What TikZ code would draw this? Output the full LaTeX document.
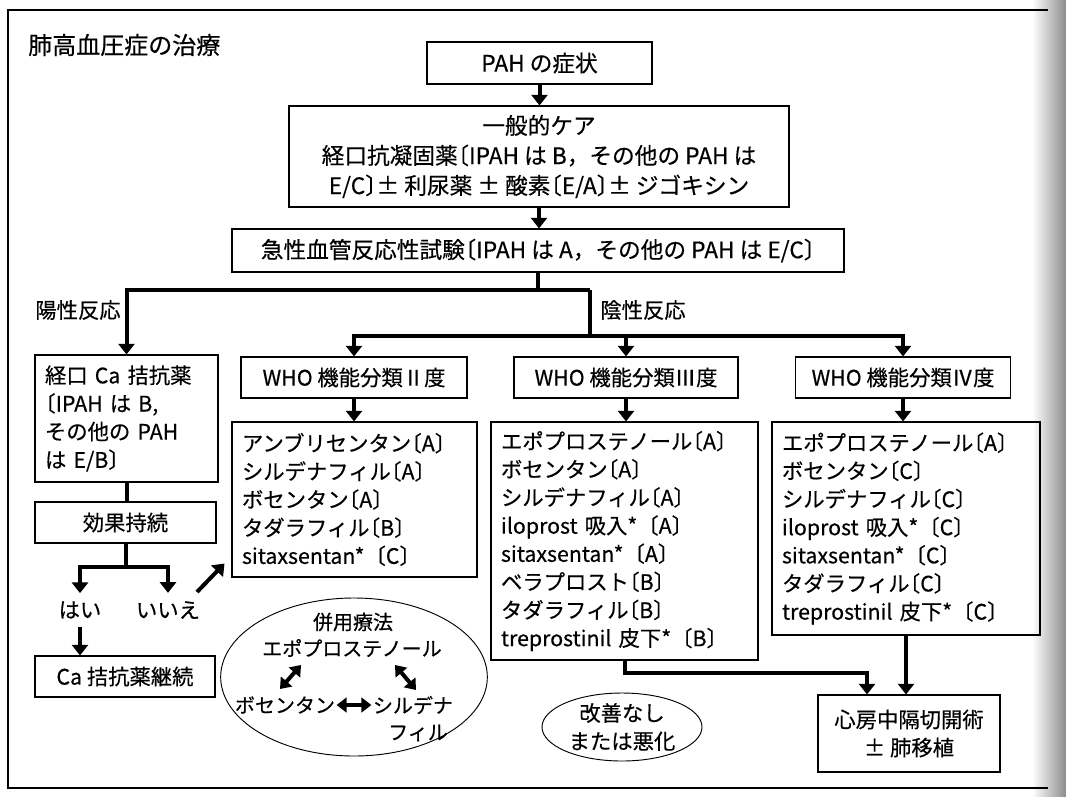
\documentclass[tikz,border=0pt]{standalone}
\usepackage{fontspec}
\setmainfont{Noto Sans CJK JP}[FakeBold=0.4]
\newfontfamily\hfont{Noto Sans CJK JP}[RawFeature=+halt, FakeBold=0.4]
\usetikzlibrary{arrows.meta,shapes.geometric,calc}
\newcommand{\myfont}{\fontsize{16}{21.1}\selectfont}
\newcommand{\mycarefont}{\fontsize{17}{22.5}\selectfont}
\newcommand{\mysmallfont}{\fontsize{15}{20}\selectfont}
\newcommand{\mytitlefont}{\fontsize{18}{22}\selectfont}
\newcommand{\LB}{{\hfont 〔}}
\newcommand{\RB}{{\hfont 〕}}
\begin{document}
\begin{tikzpicture}[x=0.75pt,y=-0.75pt,
  box/.style={draw, line width=0.8pt, inner sep=0pt, font=\myfont, align=center},
  lst/.style={draw, line width=0.8pt, inner xsep=7.5pt, inner ysep=0pt, font=\myfont, align=left},
  lbl/.style={font=\myfont, inner sep=0pt},
  slbl/.style={font=\mysmallfont, inner sep=0pt},
  conn/.style={line width=3pt},
  arr/.style={line width=3pt, -{Triangle[width=12pt,length=8pt]}},
  darr/.style={line width=3pt, {Triangle[width=11pt,length=7.5pt]}-{Triangle[width=11pt,length=7.5pt]}},
  oval/.style={ellipse, draw, line width=0.7pt, inner sep=0pt}]
\useasboundingbox (0,0) rectangle (1066,796);
\fill[white] (0,0) rectangle (1066,796);
\shade[left color=white, right color=black!45] (1032,0) rectangle (1066,796);
% frame
\draw[line width=1.6pt] (1048,10) -- (8,10) -- (8,788) -- (1048,788);
% title
\node[font=\mytitlefont, inner sep=0pt, anchor=west] (title) at (28,45) {肺高血圧症の治療};
% top boxes
\node[box, font=\mycarefont, minimum width=168.75pt, minimum height=31.5pt] (pah) at (539.5,63) {PAH の症状};
\node[box, font=\mycarefont, minimum width=375pt, minimum height=75.75pt] (care) at (539,156.5)
  {一般的ケア\\経口抗凝固薬\LB IPAH は B，その他の PAH は\\E/C\RB ± 利尿薬 ± 酸素\LB E/A\RB ± ジゴキシン};
\node[box, font=\mycarefont, minimum width=459pt, minimum height=32.25pt] (test) at (538,250.5)
  {急性血管反応性試験\LB IPAH は A，その他の PAH は E/C\RB};
% labels
\node[lbl] (pos) at (78,310) {陽性反応};
\node[lbl] (neg) at (643,310) {陰性反応};
% left column
\node[lst, text width=122.25pt, minimum height=95.25pt] (ca) at (126.5,418.5)
  {経口 Ca 拮抗薬\\\LB IPAH は B,\\その他の PAH\\は E/B\RB};
\node[box, minimum width=135.75pt, minimum height=30.75pt] (keep) at (125.5,522.5) {効果持続};
\node[lbl, inner sep=6pt] (yes) at (80,610) {はい};
\node[lbl, inner sep=6pt] (no) at (168,610) {いいえ};
\node[box, minimum width=135pt, minimum height=30.75pt] (cont) at (125,676.5) {Ca 拮抗薬継続};
% WHO boxes
\node[box, minimum width=169.5pt, minimum height=30.75pt] (who2) at (354,377.5) {WHO 機能分類Ⅱ度};
\node[box, minimum width=168pt, minimum height=30.75pt] (who3) at (626,377.5) {WHO 機能分類Ⅲ度};
\node[box, minimum width=161.25pt, minimum height=30.75pt] (who4) at (903,377.5) {WHO 機能分類Ⅳ度};
% lists
\node[lst, text width=168.75pt, minimum height=116.25pt] (l2) at (354.5,499.5)
  {アンブリセンタン\LB A\RB\\シルデナフィル\LB A\RB\\ボセンタン\LB A\RB\\タダラフィル\LB B\RB\\sitaxsentan*〔C\RB};
\node[lst, text width=185.25pt, minimum height=178.5pt] (l3) at (624.5,541)
  {エポプロステノール\LB A\RB\\ボセンタン\LB A\RB\\シルデナフィル\LB A\RB\\iloprost 吸入*〔A\RB\\sitaxsentan*〔A\RB\\ベラプロスト\LB B\RB\\タダラフィル\LB B\RB\\treprostinil 皮下*〔B\RB};
\node[lst, text width=186pt, minimum height=159.75pt] (l4) at (906,528.5)
  {エポプロステノール\LB A\RB\\ボセンタン\LB C\RB\\シルデナフィル\LB C\RB\\iloprost 吸入*〔C\RB\\sitaxsentan*〔C\RB\\タダラフィル\LB C\RB\\treprostinil 皮下*〔C\RB};
\node[box, minimum width=136.5pt, minimum height=57.75pt] (surg) at (909,733.5)
  {心房中隔切開術\\± 肺移植};
% combination ellipse
\node[oval, minimum width=200pt, minimum height=118.5pt] (combo) at (354,677) {};
\node[slbl] (c0) at (353,622) {併用療法};
\node[slbl] (c1) at (352,648) {エポプロステノール};
\node[slbl] (c2) at (285,705) {ボセンタン};
\node[slbl] (c3) at (413,705) {シルデナ};
\node[slbl] (c4) at (418,733) {フィル};
\coordinate (d1a) at (280,689);
\coordinate (d1b) at (301,665);
\coordinate (d2a) at (395,665);
\coordinate (d2b) at (416,690);
\draw[darr] (d1a) -- (d1b);
\draw[darr] (d2a) -- (d2b);
\draw[darr] ([xshift=1pt]c2.east) -- ([xshift=-1pt]c3.west);
% improvement ellipse
\node[oval, font=\myfont, align=center, minimum width=120pt, minimum height=51pt] (imp) at (622,727) {改善なし\\または悪化};
% connectors
\draw[arr] (pah.south) -- (pah.south |- care.north);
\draw[arr] (care.south) -- (care.south |- test.north);
\coordinate (nb) at (590,290);
\coordinate (nr) at (590,336);
\draw[conn] (test.south) -- (test.south |- nb);
\draw[arr] (nb) -| (ca.north);
\draw[conn] (nb) -- (nr);
\draw[arr] (nr) -| (who2.north);
\draw[arr] (nr) -| (who4.north);
\draw[arr] (who3.north |- nr) -- (who3.north);
\draw[arr] (who2.south) -- (who2.south |- l2.north);
\draw[arr] (who3.south) -- (who3.south |- l3.north);
\draw[arr] (who4.south) -- (who4.south |- l4.north);
\draw[conn] (ca.south) -- (ca.south |- keep.north);
\coordinate (ks) at (125.5,567);
\draw[conn] (keep.south) -- (ks);
\draw[arr] (ks) -| (yes.north);
\draw[arr] (ks) -| (no.north);
\draw[arr] (yes.south) -- (yes.south |- cont.north);
\coordinate (noarr) at (197,592);
\draw[arr] (noarr) -- ($(l2.south west)+(-7,-14)$);
\coordinate (sa) at (867,673);
\draw[arr] (l3.south) |- (sa) -- (sa |- surg.north);
\draw[arr] (l4.south) -- (l4.south |- surg.north);
\end{tikzpicture}
\end{document}
